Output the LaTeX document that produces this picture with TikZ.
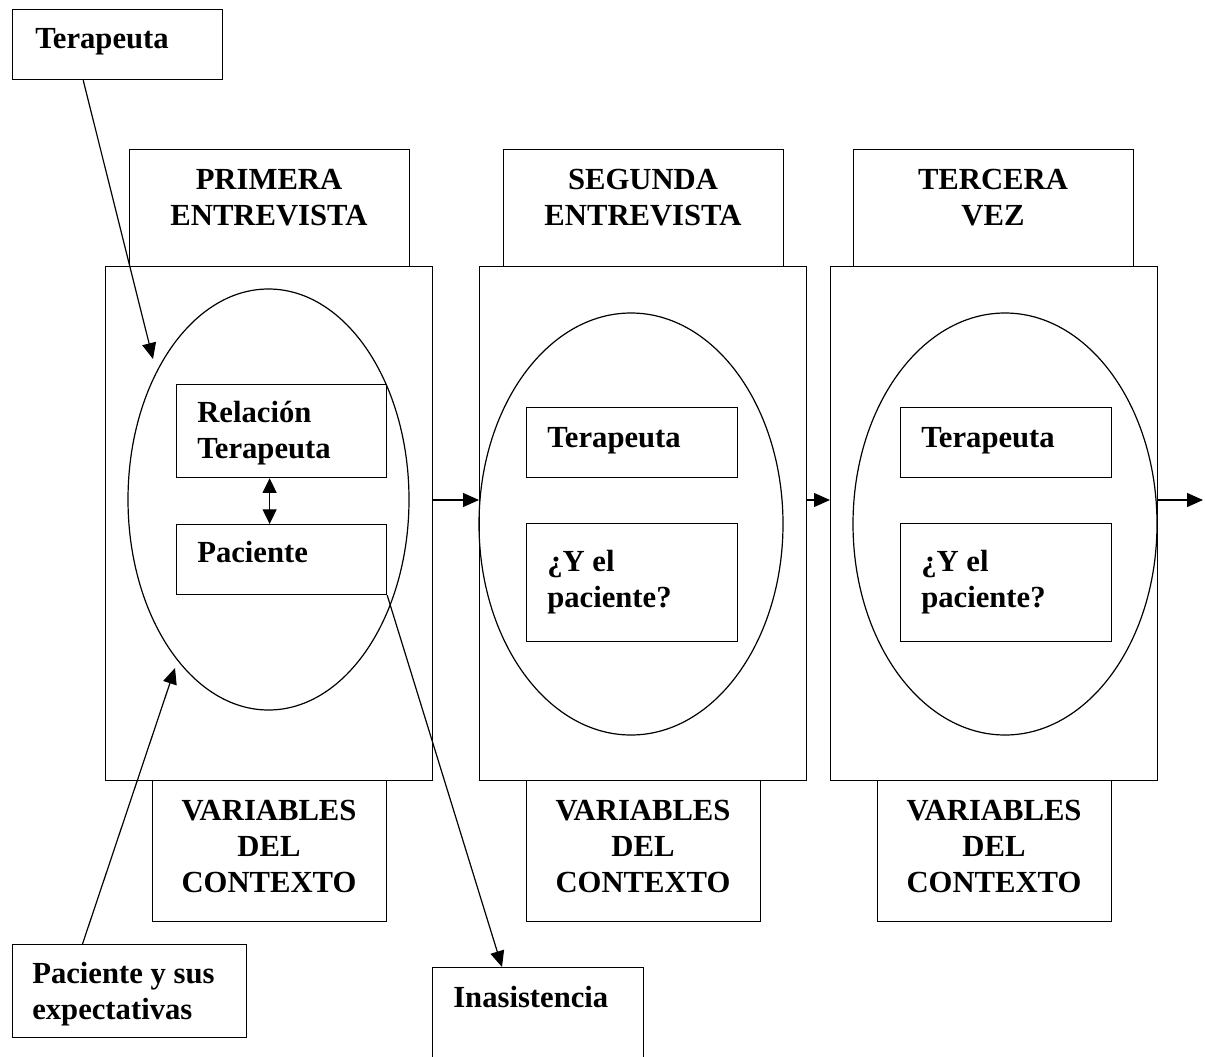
\documentclass[tikz,border=0pt]{standalone}
\usepackage{fontspec}
\setmainfont{Liberation Serif}
\usetikzlibrary{arrows.meta,positioning,shapes.geometric}

\tikzset{
  caja/.style={draw, line width=0.9pt, inner sep=0pt, anchor=north west},
  ovalo/.style={draw, ellipse, line width=0.9pt, inner sep=0pt},
  rotulo/.style={font=\fontsize{23}{27}\selectfont\bfseries, inner sep=0pt},
  flecha/.style={line width=0.9pt, -{Triangle[length=12pt, width=10.5pt]}},
  dobleflecha/.style={line width=0.9pt, {Triangle[length=11pt, width=10.5pt]}-{Triangle[length=11pt, width=10.5pt]}}
}

\begin{document}
\begin{tikzpicture}[x=0.75pt, y=-0.75pt]
    % 1 unit = 1 px of the figure, y grows downwards
    \def\px{0.75pt}
    \useasboundingbox (0,0) rectangle (1205,1056);

    % Sessions: frame, title above, context below
    \foreach \s/\rx/\hx/\vx/\titulo in {1/105/129/152/{PRIMERA\\ENTREVISTA},
                                         2/479/503/526/{SEGUNDA\\ENTREVISTA},
                                         3/830/853/877/{TERCERA\\VEZ}} {
        \node[caja, minimum width=327*\px, minimum height=514*\px] (sesion\s) at (\rx, 266) {};
        \node[caja, minimum width=280*\px, minimum height=117*\px] (titulo\s) at (\hx, 149) {};
        \node[rotulo, text width=280*\px, align=center, anchor=base] at (\hx+140, 189) {\titulo};
        \node[caja, minimum width=234*\px, minimum height=141*\px] (contexto\s) at (\vx, 780) {};
        \node[rotulo, text width=234*\px, align=center, anchor=base] at (\vx+117, 820) {VARIABLES\\DEL\\CONTEXTO};
    }

    % Ovals
    \node[ovalo, minimum width=281*\px, minimum height=421*\px] (ovalo1) at (268.5, 499.5) {};
    \node[ovalo, minimum width=304*\px, minimum height=422*\px] (ovalo2) at (631, 524) {};
    \node[ovalo, minimum width=304*\px, minimum height=422*\px] (ovalo3) at (1005, 524) {};

    % First interview
    \node[caja, minimum width=210*\px, minimum height=93*\px] (relacion) at (176, 384) {};
    \node[rotulo, text width=180*\px, align=flush left, anchor=base west] at (197, 422) {Relación\\Terapeuta};
    \node[caja, minimum width=210*\px, minimum height=70*\px] (paciente) at (176, 524) {};
    \node[rotulo, anchor=base west] at (197, 562) {Paciente};

    % Second and third
    \foreach \s/\bx in {2/526, 3/900} {
        \node[caja, minimum width=211*\px, minimum height=70*\px] (terapeuta\s) at (\bx, 407) {};
        \node[rotulo, anchor=base west] at (\bx+21, 447) {Terapeuta};
        \node[caja, minimum width=211*\px, minimum height=118*\px] (pregunta\s) at (\bx, 523) {};
        \node[rotulo, text width=180*\px, align=flush left, anchor=base west] at (\bx+21, 571) {¿Y el\\paciente?};
    }

    % Outer labels
    \node[caja, minimum width=210*\px, minimum height=70*\px] (terapeutaA) at (12, 9) {};
    \node[rotulo, anchor=base west] at (35, 49) {Terapeuta};
    \node[caja, minimum width=234*\px, minimum height=93*\px] (expectativas) at (12, 944) {};
    \node[rotulo, text width=210*\px, align=flush left, anchor=base west] at (32, 983) {Paciente y sus\\expectativas};
    \node[caja, minimum width=211*\px, minimum height=120*\px] (inasistencia) at (432, 967) {};
    \node[rotulo, anchor=base west] at (453, 1007) {Inasistencia};

    % Arrows
    \coordinate (flujo) at (0, 500);
    \coordinate (salida) at (1203, 500);
    \coordinate (puntaTer) at (153, 359);
    \coordinate (puntaPac) at (175, 668);
    \draw[flecha] (sesion1.east |- flujo) -- (sesion2.west |- flujo);
    \draw[flecha] (sesion2.east |- flujo) -- (sesion3.west |- flujo);
    \draw[flecha] (sesion3.east |- flujo) -- (salida);
    \draw[dobleflecha] ([xshift=-12*\px]relacion.south) -- ([xshift=-12*\px]paciente.north);
    \draw[flecha] (terapeutaA.226) -- (puntaTer);
    \draw[flecha] (expectativas.135) -- (puntaPac);
    \draw[flecha] (paciente.south east) -- ([xshift=70*\px]inasistencia.north west);
\end{tikzpicture}
\end{document}
